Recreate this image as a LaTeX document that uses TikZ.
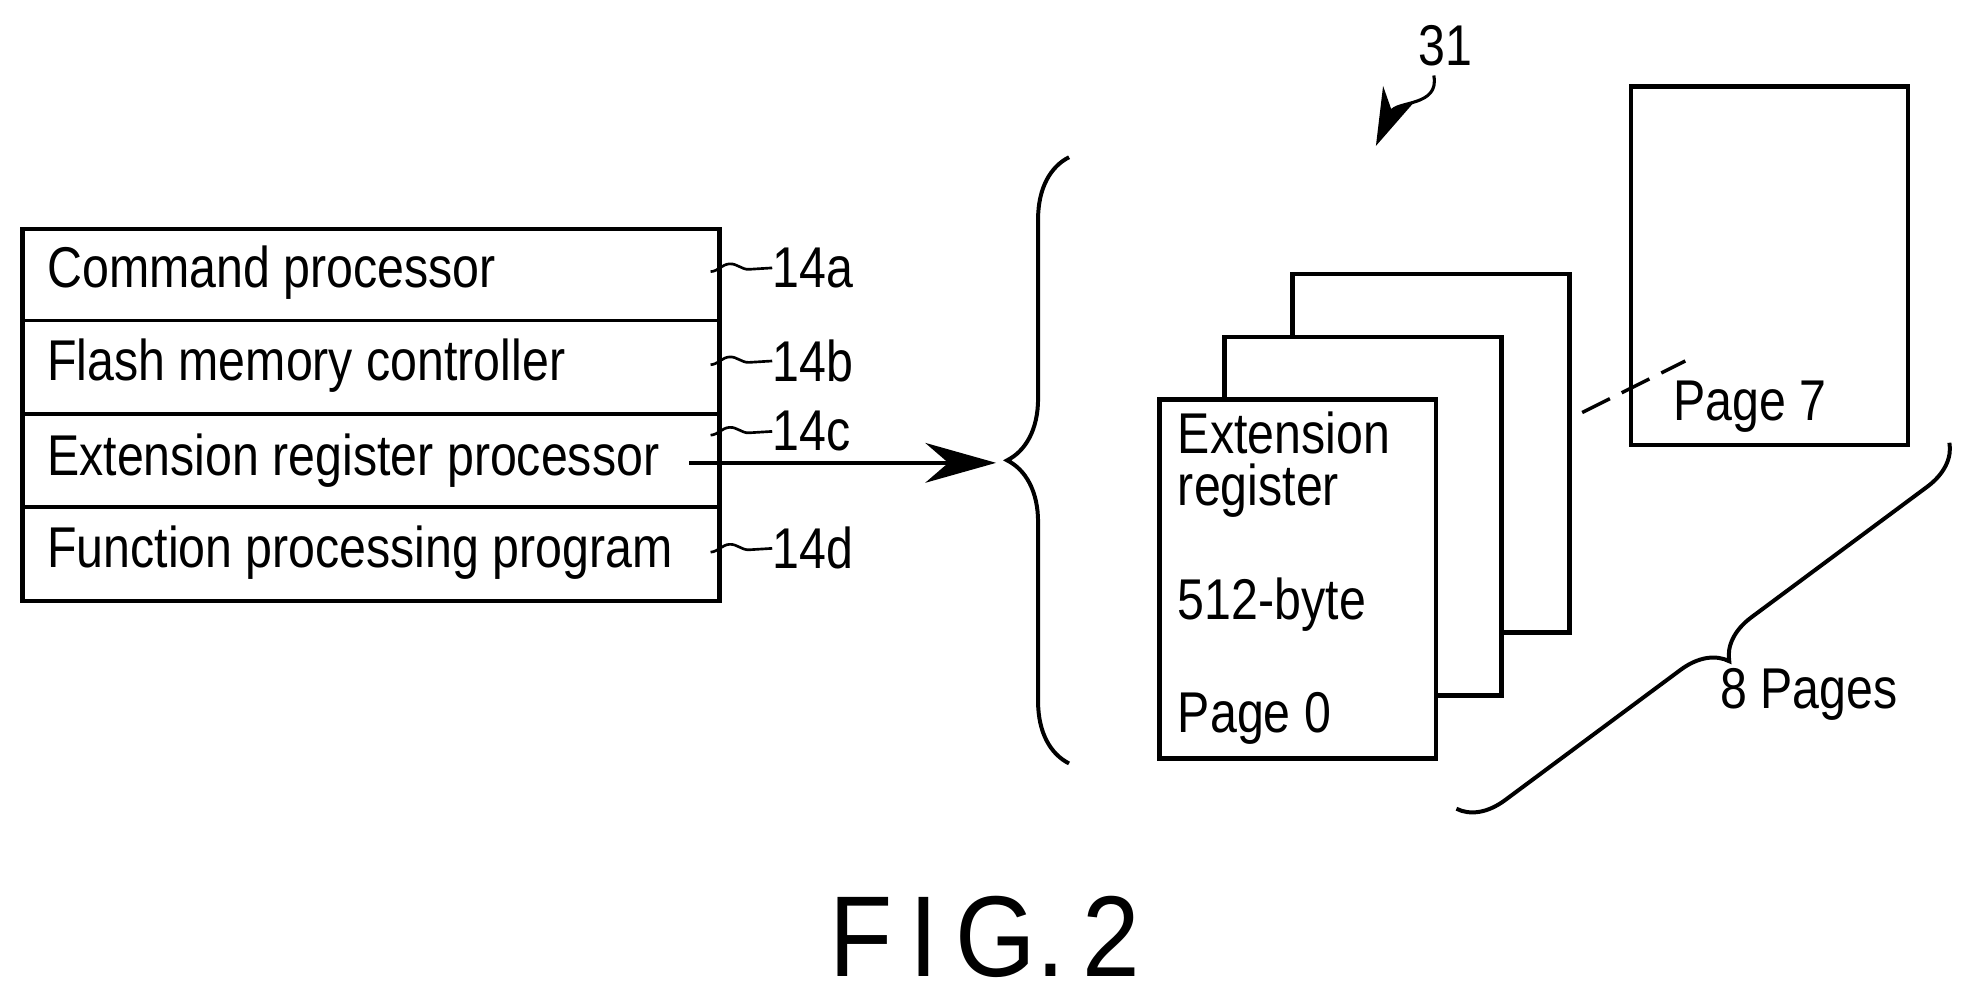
\documentclass[tikz,border=0pt]{standalone}
\usepackage{fontspec}
\setmainfont{Liberation Sans}
\usetikzlibrary{positioning,decorations.pathreplacing,decorations.pathmorphing,arrows.meta}
\tikzset{
  txt/.style={font=\fontsize{13}{15}\selectfont, inner sep=0pt, anchor=west, xscale=0.84},
  pg/.style={draw, line width=1pt, fill=white, minimum width=2.2cm, minimum height=2.85cm, anchor=north west},
  lead/.style={line width=0.6pt, decorate, decoration={snake, amplitude=1.5pt, segment length=14pt}},
}
\begin{document}
\begin{tikzpicture}[x=0.01cm,y=-0.01cm]
  \useasboundingbox (0,0) rectangle (1560,790);
  % left box
  \draw[line width=1pt] (18,182) rectangle (572,478);
  \foreach \y in {255,329,403} {\draw[line width=0.8pt] (18,\y) -- (572,\y);}
  \node[txt] (cmd) at (37,217) {Command processor};
  \node[txt] (fmc) at (37,291) {Flash memory controller};
  \node[txt] (erp) at (37,366) {Extension register processor};
  \node[txt] (fpp) at (37,439) {Function processing program};
  % reference labels
  \node[txt] (l14a) at (614,213) {14a};
  \node[txt] (l14b) at (614,287) {14b};
  \node[txt] (l14c) at (614,343) {14c};
  \node[txt] (l14d) at (614,436) {14d};
  \foreach \n/\y in {l14a/213,l14b/287,l14c/343,l14d/436}
    {\coordinate (s\n) at (565,\y+3); \draw[lead] (s\n) -- (\n.west);}
  % arrow
  \coordinate (astart) at (548,368);
  \coordinate (aend) at (792,368);
  \draw[line width=0.8pt,-{Stealth[length=16pt,width=9pt]}] (astart) -- (aend);
  % brace
  \coordinate (btop) at (850,125);
  \coordinate (bbot) at (850,607);
  \draw[line width=0.9pt, decorate, decoration={brace, amplitude=14pt}] (bbot) -- (btop);
  % pages
  \node[pg] (p7) at (1295,67) {};
  \node[pg] (p2) at (1026,216) {};
  \node[pg] (p1) at (972,266) {};
  \node[pg] (p0) at (920,316) {};
  \node[txt] (ext) at (936,344) {Extension};
  \node[txt] (reg) at (936,390) {register};
  \node[txt] (byt) at (936,481) {512-byte};
  \node[txt] (pz) at (936,571) {Page 0};
  \node[txt] (ps) at (1330,323) {Page 7};
  \coordinate (da) at (1258,328);
  \coordinate (db) at (1340,287);
  \draw[line width=0.8pt, dash pattern=on 7pt off 3pt] (da) -- (db);
  % 31
  \node[txt] (n31) at (1127,36) {31};
  \coordinate (q1) at (1140,60);
  \coordinate (q2) at (1094,116);
  \draw[line width=0.7pt,-{Stealth[length=13pt,width=8pt]}] (q1) .. controls (1145,85) and (1110,80) .. (q2);
  % 8 pages brace
  \coordinate (ba) at (1158,643);
  \coordinate (bb) at (1550,352);
  \draw[line width=0.9pt, decorate, decoration={brace, amplitude=10pt, mirror}] (ba) -- (bb);
  \node[txt] (np) at (1367,552) {8 Pages};
  % caption
  \node[font=\fontsize{26}{30}\selectfont, xscale=0.9] (fig) at (783,745) {F\,I\,G.\,2};
\end{tikzpicture}
\end{document}
